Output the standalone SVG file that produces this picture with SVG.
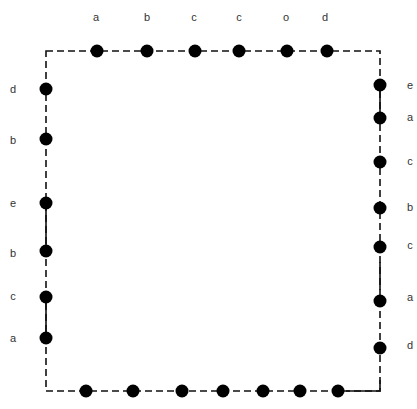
<svg xmlns="http://www.w3.org/2000/svg" width="417" height="409" viewBox="0 0 417 409">
<style>
.bg{fill:#fff}
.edge{fill:none;stroke:#111;stroke-width:1.6;stroke-dasharray:7 4}
.solid{fill:none;stroke:#111;stroke-width:1.6}
.dot{fill:#000}
.lbl{font-family:"Liberation Sans",Arial,sans-serif;font-size:11px;fill:#333;text-anchor:middle}
</style>
<rect class="bg" x="0" y="0" width="417" height="409"/>
<g id="connectors">
<path class="edge" d="M46 51 H380 V391 H46 Z"/>
<path class="solid" d="M46 203 V250 M46 297 V338 M380 85 V118 M380 262 V290 M346 391 H380 V380"/>
</g>
<g id="top-a"><circle class="dot" cx="97" cy="51" r="6.5"/><text class="lbl" x="96" y="21">a</text></g>
<g id="top-b"><circle class="dot" cx="147" cy="51" r="6.5"/><text class="lbl" x="147" y="21">b</text></g>
<g id="top-c1"><circle class="dot" cx="195" cy="51" r="6.5"/><text class="lbl" x="194" y="21">c</text></g>
<g id="top-c2"><circle class="dot" cx="239" cy="51" r="6.5"/><text class="lbl" x="239" y="21">c</text></g>
<g id="top-o"><circle class="dot" cx="287" cy="51" r="6.5"/><text class="lbl" x="286" y="21">o</text></g>
<g id="top-d"><circle class="dot" cx="327" cy="51" r="6.5"/><text class="lbl" x="325" y="21">d</text></g>
<g id="left-d"><circle class="dot" cx="46" cy="89" r="6.5"/><text class="lbl" x="13" y="93">d</text></g>
<g id="left-b1"><circle class="dot" cx="46" cy="139" r="6.5"/><text class="lbl" x="13" y="144">b</text></g>
<g id="left-e"><circle class="dot" cx="46" cy="203" r="6.5"/><text class="lbl" x="13" y="207">e</text></g>
<g id="left-b2"><circle class="dot" cx="46" cy="251" r="6.5"/><text class="lbl" x="13" y="257">b</text></g>
<g id="left-c"><circle class="dot" cx="46" cy="297" r="6.5"/><text class="lbl" x="13" y="300">c</text></g>
<g id="left-a"><circle class="dot" cx="46" cy="338" r="6.5"/><text class="lbl" x="13" y="342">a</text></g>
<g id="right-e"><circle class="dot" cx="380" cy="85" r="6.5"/><text class="lbl" x="410" y="89">e</text></g>
<g id="right-a1"><circle class="dot" cx="380" cy="118" r="6.5"/><text class="lbl" x="410" y="121">a</text></g>
<g id="right-c1"><circle class="dot" cx="380" cy="162" r="6.5"/><text class="lbl" x="410" y="165">c</text></g>
<g id="right-b"><circle class="dot" cx="380" cy="208" r="6.5"/><text class="lbl" x="410" y="211">b</text></g>
<g id="right-c2"><circle class="dot" cx="380" cy="247" r="6.5"/><text class="lbl" x="410" y="249">c</text></g>
<g id="right-a2"><circle class="dot" cx="380" cy="301" r="6.5"/><text class="lbl" x="410" y="301">a</text></g>
<g id="right-d"><circle class="dot" cx="380" cy="348" r="6.5"/><text class="lbl" x="410" y="349">d</text></g>
<g id="bottom-1"><circle class="dot" cx="86" cy="391" r="6.5"/></g>
<g id="bottom-2"><circle class="dot" cx="133" cy="391" r="6.5"/></g>
<g id="bottom-3"><circle class="dot" cx="182" cy="391" r="6.5"/></g>
<g id="bottom-4"><circle class="dot" cx="223" cy="391" r="6.5"/></g>
<g id="bottom-5"><circle class="dot" cx="263" cy="391" r="6.5"/></g>
<g id="bottom-6"><circle class="dot" cx="300" cy="391" r="6.5"/></g>
<g id="bottom-7"><circle class="dot" cx="338" cy="391" r="6.5"/></g>
</svg>
